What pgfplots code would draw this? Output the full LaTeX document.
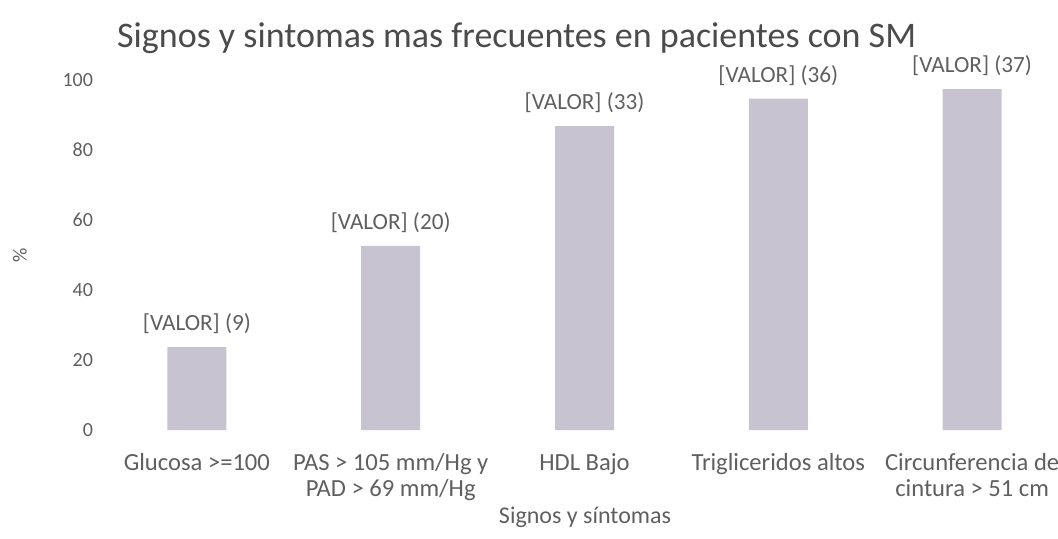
\documentclass[border=0pt]{standalone}
\usepackage{fontspec}
\setmainfont{Carlito}
\usepackage{pgfplots}
\pgfplotsset{compat=1.18}
\definecolor{txt}{RGB}{95,95,95}
\definecolor{ttl}{RGB}{75,75,75}
\definecolor{barc}{RGB}{200,195,209}
\begin{document}
\begin{tikzpicture}
\useasboundingbox (0,0) rectangle (529pt,269pt);
\begin{axis}[
  at={(50pt,54pt)}, anchor=south west,
  scale only axis, width=484.5pt, height=175pt,
  xmin=-0.5, xmax=4.5, ymin=0, ymax=100,
  clip=false,
  axis line style={draw=none},
  tick style={draw=none},
  ytick={0,20,40,60,80,100},
  xtick={0,1,2,3,4},
  xticklabels={{Glucosa >=100},{PAS > 105 mm/Hg y\\PAD > 69 mm/Hg},{HDL Bajo},{Trigliceridos altos},{Circunferencia de\\cintura > 51 cm}},
  xticklabel style={align=center, font=\fontsize{12.3}{13}\selectfont, text=txt, yshift=-4pt},
  yticklabel style={font=\fontsize{10}{12}\selectfont, text=txt, /pgf/number format/assume math mode=true},
  ybar, bar width=29.5pt,
  point meta=explicit symbolic,
  nodes near coords={{[}VALOR{]} (\pgfplotspointmeta)},
  every node near coord/.append style={font=\fontsize{11.6}{13}\selectfont, text=txt, yshift=3pt},
  title={Signos y sintomas mas frecuentes en pacientes con SM},
  title style={at={(rel axis cs:0.430,1.086)}, anchor=center, font=\fontsize{18}{21}\selectfont, text=ttl},
  xlabel={Signos y síntomas},
  xlabel style={at={(rel axis cs:0.5005,-0.249)}, anchor=center, font=\fontsize{12}{14}\selectfont, text=txt},
  ylabel={\%},
  ylabel style={at={(rel axis cs:-0.0826,0.5)}, anchor=center, font=\fontsize{10}{12}\selectfont, text=txt},
]
\addplot[fill=barc, draw=none] coordinates {
  (0,23.7) [9]
  (1,52.6) [20]
  (2,86.8) [33]
  (3,94.7) [36]
  (4,97.4) [37]
};
\end{axis}
\end{tikzpicture}
\end{document}
